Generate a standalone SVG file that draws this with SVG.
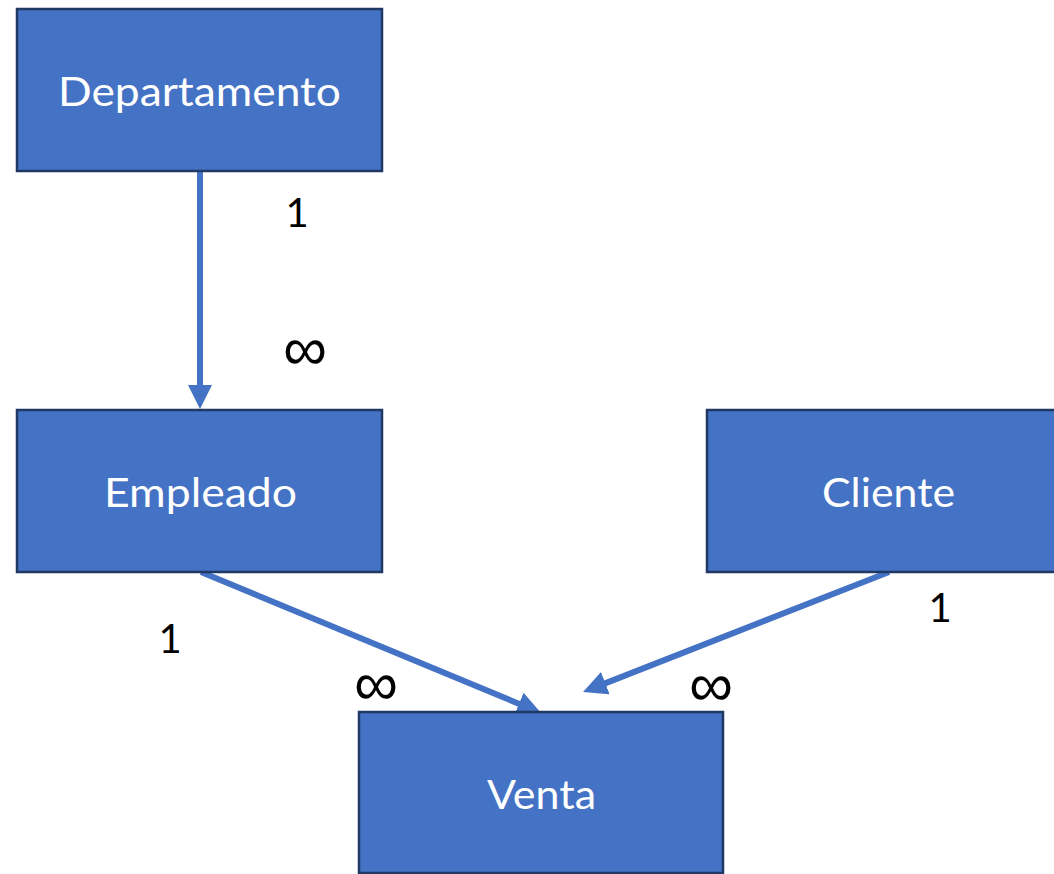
<svg xmlns="http://www.w3.org/2000/svg" width="1054" height="874" viewBox="0 0 1054 874">
<style>
.box{fill:#4472C4;stroke:#1F3864;stroke-width:2.5}
.lbl{fill:#ffffff;font-family:Lato,"Open Sans","Liberation Sans",sans-serif;font-size:40px;text-anchor:middle}
.card{fill:#000000;font-family:Lato,"Open Sans","Liberation Sans",sans-serif;font-size:40px;text-anchor:middle}
.inf{fill:#000000;font-family:"Noto Sans","Liberation Sans",sans-serif;font-size:62px;text-anchor:middle}
.conn{stroke:#4472C4;stroke-width:6;fill:none}
</style>
<defs>
<marker id="arr" markerUnits="strokeWidth" markerWidth="4" markerHeight="4" refX="2" refY="2" orient="auto" viewBox="0 0 4 4">
<path d="M0,0 L4,2 L0,4 z" fill="#4472C4"/>
</marker>
</defs>
<rect width="1054" height="874" fill="#ffffff"/>
<g id="connectors">
<line class="conn" x1="200" y1="171" x2="200" y2="397" marker-end="url(#arr)"/>
<line class="conn" x1="201" y1="572" x2="530" y2="708.4" marker-end="url(#arr)"/>
<line class="conn" x1="889" y1="572" x2="594.2" y2="687.6" marker-end="url(#arr)"/>
</g>
<g id="departamento">
<rect class="box" x="17" y="9" width="365" height="162"/>
<text class="lbl" x="199.5" y="106" textLength="283" lengthAdjust="spacingAndGlyphs">Departamento</text>
</g>
<g id="empleado">
<rect class="box" x="17" y="410" width="365" height="162"/>
<text class="lbl" x="200.5" y="507" textLength="193" lengthAdjust="spacingAndGlyphs">Empleado</text>
</g>
<g id="cliente">
<rect class="box" x="707" y="410" width="365" height="162"/>
<text class="lbl" x="888.5" y="507" textLength="133" lengthAdjust="spacingAndGlyphs">Cliente</text>
</g>
<g id="venta">
<rect class="box" x="359" y="712" width="364" height="161"/>
<text class="lbl" x="541.5" y="809" textLength="109" lengthAdjust="spacingAndGlyphs">Venta</text>
</g>
<g id="cardinalities">
<text class="card" x="297" y="227">1</text>
<text class="inf" x="305" y="370">∞</text>
<text class="card" x="170" y="653">1</text>
<text class="inf" x="376" y="705">∞</text>
<text class="inf" x="711" y="706">∞</text>
<text class="card" x="940" y="622">1</text>
</g>
</svg>
